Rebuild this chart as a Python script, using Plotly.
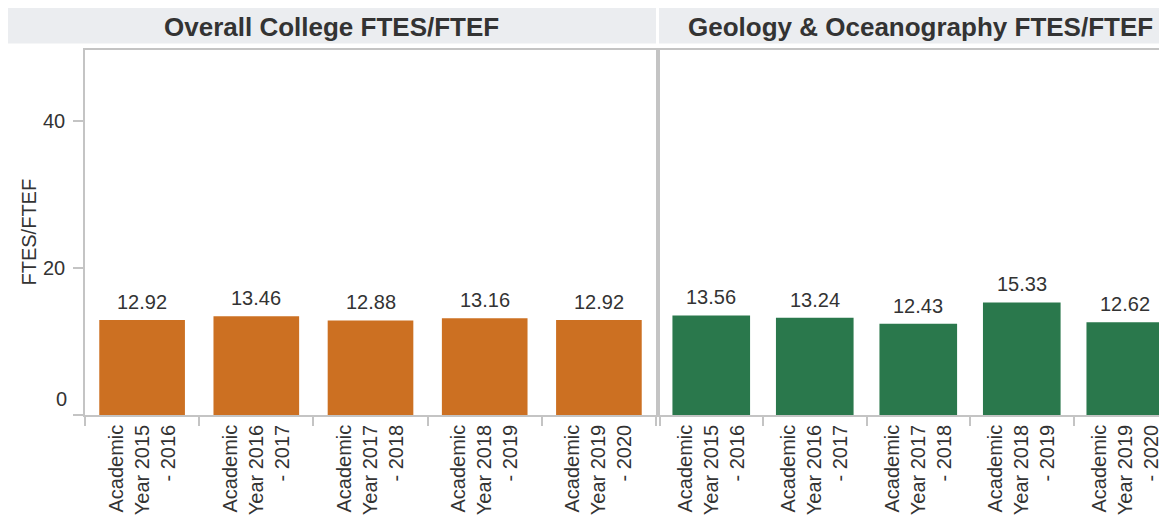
import plotly.graph_objects as go

categories = ["Academic Year 2015 - 2016", "Academic Year 2016 - 2017",
              "Academic Year 2017 - 2018", "Academic Year 2018 - 2019",
              "Academic Year 2019 - 2020"]
tick_labels = ["Academic<br>Year 2015<br>- 2016", "Academic<br>Year 2016<br>- 2017",
               "Academic<br>Year 2017<br>- 2018", "Academic<br>Year 2018<br>- 2019",
               "Academic<br>Year 2019<br>- 2020"]
college_values = [12.92, 13.46, 12.88, 13.16, 12.92]
geology_values = [13.56, 13.24, 12.43, 15.33, 12.62]
panel_titles = ["Overall College FTES/FTEF", "Geology & Oceanography FTES/FTEF"]
y_ticks = [0, 20, 40]

FONT = "Liberation Sans, Arial, sans-serif"
TXT = "#333333"
LINE = "#C4C4C4"
ORANGE = "#CC7022"
GREEN = "#2A784C"
HEADER = "#EBEDF0"

fig = go.Figure()
fig.add_trace(go.Bar(x=categories, y=college_values, marker_color=ORANGE,
                     marker_line_width=0, xaxis="x", yaxis="y", showlegend=False,
                     hoverinfo="x+y"))
fig.add_trace(go.Bar(x=categories, y=geology_values, marker_color=GREEN,
                     marker_line_width=0, xaxis="x2", yaxis="y2", showlegend=False,
                     hoverinfo="x+y"))

annotations = []
for c, v in zip(categories, college_values):
    annotations.append(dict(x=c, y=v, xref="x", yref="y", text=f"{v:.2f}",
                            showarrow=False, yanchor="bottom", yshift=5,
                            font=dict(family=FONT, size=20, color=TXT)))
for c, v in zip(categories, geology_values):
    annotations.append(dict(x=c, y=v, xref="x2", yref="y2", text=f"{v:.2f}",
                            showarrow=False, yanchor="bottom", yshift=5,
                            font=dict(family=FONT, size=20, color=TXT)))

# panel header titles
annotations.append(dict(x=(331 - 85) / 1082, y=1.063, xref="paper", yref="paper",
                        text=f"<b>{panel_titles[0]}</b>", showarrow=False,
                        xanchor="center", yanchor="middle",
                        font=dict(family=FONT, size=26, color=TXT)))
annotations.append(dict(x=(920 - 85) / 1082, y=1.063, xref="paper", yref="paper",
                        text=f"<b>{panel_titles[1]}</b>", showarrow=False,
                        xanchor="center", yanchor="middle",
                        font=dict(family=FONT, size=26, color=TXT)))
# zero label (lifted above the axis like the original)
annotations.append(dict(x=0, y=0, xref="paper", yref="y", text="0", showarrow=False,
                        xanchor="right", yanchor="middle", xshift=-16, yshift=16,
                        font=dict(family=FONT, size=20, color=TXT)))
# y axis title
annotations.append(dict(x=-57 / 1082, y=0.5, xref="paper", yref="paper",
                        text="FTES/FTEF", showarrow=False, textangle=-90,
                        xanchor="center", yanchor="middle",
                        font=dict(family=FONT, size=20, color=TXT)))

shapes = [
    dict(type="rect", xref="paper", yref="paper", x0=(8 - 85) / 1082, x1=(656 - 85) / 1082,
         y0=1.0178, y1=1.1205, fillcolor=HEADER, line_width=0, layer="below"),
    dict(type="rect", xref="paper", yref="paper", x0=(659 - 85) / 1082, x1=1.0,
         y0=1.0178, y1=1.1205, fillcolor=HEADER, line_width=0, layer="below"),
]

common_x = dict(type="category", showline=True, linecolor=LINE, linewidth=1.5,
                mirror=True, ticks="outside", tickson="boundaries", ticklen=9,
                tickcolor=LINE, tickwidth=1.5, tickangle=-90, showgrid=False,
                tickvals=categories, ticktext=tick_labels,
                tickfont=dict(family=FONT, size=20, color=TXT), fixedrange=True)

fig.update_layout(
    width=1159, height=515,
    margin=dict(l=77, r=0, t=42, b=108),
    paper_bgcolor="white", plot_bgcolor="white",
    bargap=0.25,
    xaxis=dict(domain=[0, 571 / 1082], range=[-0.5, 4.5], anchor="y", **common_x),
    xaxis2=dict(domain=[574.5 / 1082, 1], range=[-0.5, 4.403], anchor="y2", **common_x),
    yaxis=dict(range=[0, 49.7], anchor="x", showline=True, linecolor=LINE, linewidth=1.5,
               mirror=True, ticks="outside", ticklen=10, tickcolor=LINE, tickwidth=1.5,
               tickvals=y_ticks, ticktext=["", "20", "40"], showgrid=False, zeroline=False,
               ticklabelstandoff=4,
               tickfont=dict(family=FONT, size=20, color=TXT)),
    yaxis2=dict(range=[0, 49.7], anchor="x2", showline=True, linecolor=LINE, linewidth=1.5,
                mirror=False, showticklabels=False, ticks="", showgrid=False,
                zeroline=False, matches="y"),
    annotations=annotations,
    shapes=shapes,
    font=dict(family=FONT, color=TXT),
)

fig.write_html("out.html")
